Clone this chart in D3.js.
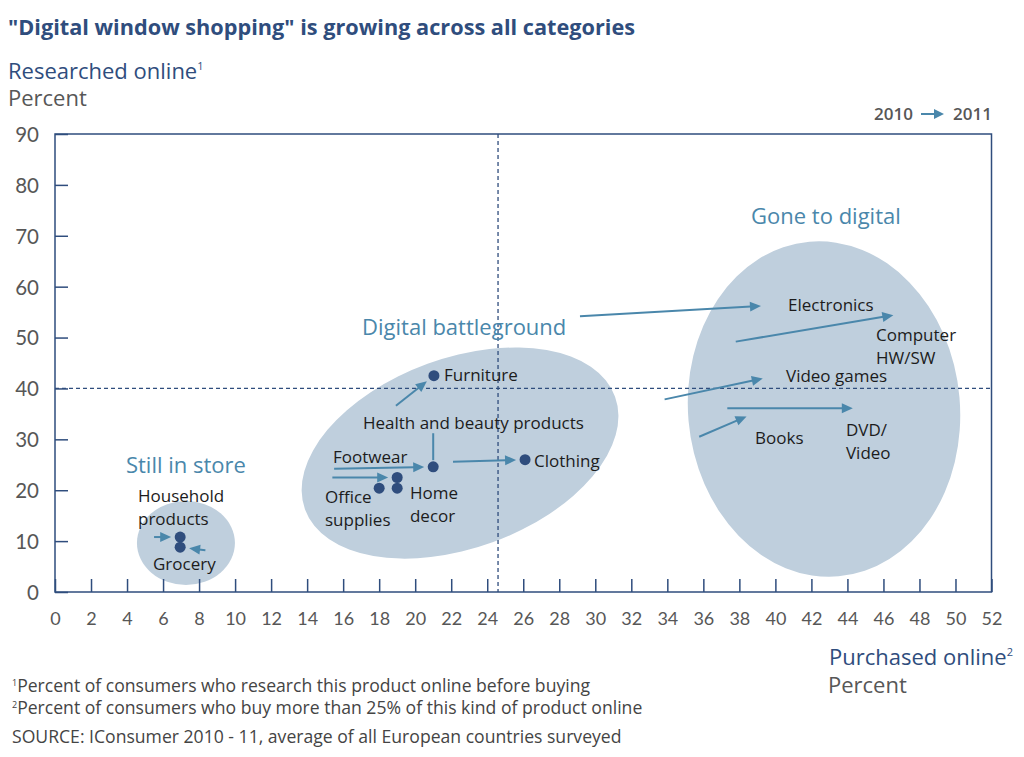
<!DOCTYPE html>
<html><head><meta charset="utf-8">
<script src="https://cdn.jsdelivr.net/npm/d3@7/dist/d3.min.js"></script>
<style>
body{margin:0;background:#fff;}
svg{font-family:"Open Sans",Lato,sans-serif;}
</style></head><body>
<svg id="chart" width="1024" height="757"></svg>
<script>
// ---------------- data ----------------
const xTicks = d3.range(0, 53, 2);
const yTicks = d3.range(0, 91, 10);
const xThreshold = 24.6;   // vertical dashed line
const yThreshold = 40;     // horizontal dashed line

// cluster ellipses (data units)
const clusterNames = ["Still in store", "Digital battleground", "Gone to digital"];
const clusterCx = [7.27, 22.49, 42.7];
const clusterCy = [9.63, 27.3, 35.95];
const clusterRx = [2.72, 9.16, 7.55];
const clusterRy = [8.25, 18.66, 33.0];
const clusterAngle = [0, -20, -5];
const clusterLabelX = [7.27, 17.05, 38.65];
const clusterLabelY = [24.95, 52.06, 73.87];

// product movements 2010 -> 2011 (x: purchased online %, y: researched online %)
const moveNames = ["Household products", "Grocery", "Furniture", "Footwear", "Office supplies", "Clothing",
                   "Electronics", "Computer HW/SW", "Video games", "DVD/Video", "Books"];
const x2010 = [5.5, 8.35, 18.93, 15.5, 15.4, 22.1, 29.15, 37.8, 33.85, 37.33, 35.77];
const y2010 = [10.8, 8.2, 36.6, 24.2, 22.5, 25.6, 54.2, 49.2, 37.85, 36.1, 30.5];
const x2011 = [6.95, 6.95, 21.04, 21.0, 19.0, 26.1, 39.2, 46.55, 39.3, 44.3, 38.4];
const y2011 = [10.8, 8.8, 42.5, 24.6, 22.5, 26.0, 56.2, 54.4, 41.95, 36.1, 34.5];
const hasDot = [true, true, true, true, true, true, false, false, false, false, false];

// extra 2011 dots without a movement arrow
const extraDotX = [19.0, 18.0];
const extraDotY = [20.4, 20.4];

// leader line (Health and beauty products)
const leaderX = [21.0, 21.0];
const leaderY = [31.2, 25.9];

// product labels
const labelText = [["Household", "products"], ["Grocery"], ["Furniture"], ["Health and beauty products"],
                   ["Footwear"], ["Office", "supplies"], ["Home", "decor"], ["Clothing"],
                   ["Electronics"], ["Computer", "HW/SW"], ["Video games"], ["Books"], ["DVD/", "Video"]];
const labelX = [4.61, 5.44, 21.6, 17.1, 15.44, 14.99, 19.71, 26.6, 40.7, 45.59, 40.59, 38.87, 43.92];
const labelY = [18.86, 5.5, 42.63, 33.2, 26.52, 18.66, 19.45, 25.74, 56.39, 50.49, 42.44, 30.26, 31.83];

// ---------------- drawing ----------------
const navy = "#2f4d7d", teal = "#4a87ab", fillC = "#bfcfdd", grey = "#575757", ink = "#1c1c1c";
const svg = d3.select("#chart");
const x = d3.scaleLinear().domain([0, 52]).range([55, 991.5]);
const y = d3.scaleLinear().domain([0, 90]).range([592, 134]);

// title
svg.append("text").attr("x", 8).attr("y", 35).attr("font-size", 21.7).attr("font-weight", "bold")
  .attr("fill", navy).text('"Digital window shopping" is growing across all categories');
const yt = svg.append("text").attr("x", 8).attr("y", 79).attr("font-size", 22).attr("fill", navy);
yt.append("tspan").text("Researched online");
yt.append("tspan").attr("font-size", 11).attr("dy", -9).text("1");
svg.append("text").attr("x", 8).attr("y", 106).attr("font-size", 22).attr("fill", grey).text("Percent");

// legend 2010 -> 2011
const lg = svg.append("g").attr("font-size", 17).attr("fill", grey).attr("font-weight", "600");
lg.append("text").attr("x", 913).attr("y", 120).attr("text-anchor", "end").text("2010");
lg.append("text").attr("x", 992).attr("y", 120).attr("text-anchor", "end").text("2011");
lg.append("line").attr("x1", 921).attr("x2", 936).attr("y1", 114).attr("y2", 114)
  .attr("stroke", teal).attr("stroke-width", 2);
lg.append("path").attr("d", "M934,109 L944,114 L934,119 Z").attr("fill", teal);

// ellipses
const ell = svg.append("g");
clusterNames.forEach((n, i) => {
  ell.append("ellipse")
    .attr("transform", `translate(${x(clusterCx[i])},${y(clusterCy[i])}) rotate(${clusterAngle[i]})`)
    .attr("rx", x(clusterRx[i]) - x(0)).attr("ry", y(0) - y(clusterRy[i]))
    .attr("fill", fillC);
});

// frame
svg.append("rect").attr("x", x(0)).attr("y", y(90)).attr("width", x(52) - x(0)).attr("height", y(0) - y(90))
  .attr("fill", "none").attr("stroke", navy).attr("stroke-width", 1.5);

// axes
const xa = svg.append("g").attr("transform", `translate(0,${y(0)})`)
  .call(d3.axisBottom(x).tickValues(xTicks).tickSize(-13).tickPadding(20).tickFormat(d3.format("d")));
const ya = svg.append("g").attr("transform", `translate(${x(0)},0)`)
  .call(d3.axisLeft(y).tickValues(yTicks).tickSize(-13).tickPadding(16).tickFormat(d3.format("d")));
[xa, ya].forEach(a => {
  a.select(".domain").remove();
  a.selectAll(".tick line").attr("stroke", navy).attr("stroke-width", 1.5);
  a.selectAll(".tick text").attr("fill", grey).attr("font-family", "Lato,sans-serif");
});
xa.selectAll(".tick text").attr("font-size", 18);
ya.selectAll(".tick text").attr("font-size", 20.5).attr("dy", "0.36em");

// dashed thresholds
svg.append("line").attr("x1", x(xThreshold)).attr("x2", x(xThreshold)).attr("y1", y(90)).attr("y2", y(0))
  .attr("stroke", navy).attr("stroke-width", 1.3).attr("stroke-dasharray", "4,3");
svg.append("line").attr("x1", x(0)).attr("x2", x(52)).attr("y1", y(yThreshold)).attr("y2", y(yThreshold))
  .attr("stroke", navy).attr("stroke-width", 1.3).attr("stroke-dasharray", "4,3");

// arrows
const ag = svg.append("g");
moveNames.forEach((n, i) => {
  const x0 = x(x2010[i]), y0 = y(y2010[i]);
  let x1 = x(x2011[i]), y1 = y(y2011[i]);
  const dx = x1 - x0, dy = y1 - y0, L = Math.hypot(dx, dy), ux = dx / L, uy = dy / L;
  if (hasDot[i]) { x1 -= ux * 9; y1 -= uy * 9; }
  const hl = 11, hw = 5;
  const bx = x1 - ux * hl, by = y1 - uy * hl;
  ag.append("line").attr("x1", x0).attr("y1", y0).attr("x2", bx + ux * 1).attr("y2", by + uy * 1)
    .attr("stroke", teal).attr("stroke-width", 2);
  ag.append("path").attr("fill", teal)
    .attr("d", `M${x1},${y1} L${bx - uy * hw},${by + ux * hw} L${bx + uy * hw},${by - ux * hw} Z`);
});
ag.append("line").attr("x1", x(leaderX[0])).attr("x2", x(leaderX[1])).attr("y1", y(leaderY[0])).attr("y2", y(leaderY[1]))
  .attr("stroke", teal).attr("stroke-width", 2);

// dots
const dg = svg.append("g").attr("fill", navy);
moveNames.forEach((n, i) => { if (hasDot[i]) dg.append("circle").attr("cx", x(x2011[i])).attr("cy", y(y2011[i])).attr("r", 5.5); });
extraDotX.forEach((v, i) => dg.append("circle").attr("cx", x(v)).attr("cy", y(extraDotY[i])).attr("r", 5.5));

// cluster labels
clusterNames.forEach((n, i) => {
  svg.append("text").attr("x", x(clusterLabelX[i])).attr("y", y(clusterLabelY[i])).attr("dy", "0.35em")
    .attr("text-anchor", i === 0 ? "middle" : "start").attr("font-size", 22).attr("fill", teal).text(n);
});

// product labels
labelText.forEach((lines, i) => {
  const t = svg.append("text").attr("x", x(labelX[i])).attr("y", y(labelY[i])).attr("dy", "0.35em")
    .attr("font-size", 17).attr("fill", ink);
  lines.forEach((s, j) => t.append("tspan").attr("x", x(labelX[i])).attr("dy", j === 0 ? "0.35em" : 23).text(s));
});

// x axis title
const xt = svg.append("text").attr("x", 1013).attr("y", 665).attr("text-anchor", "end").attr("font-size", 22).attr("fill", navy);
xt.append("tspan").text("Purchased online");
xt.append("tspan").attr("font-size", 11).attr("dy", -9).text("2");
svg.append("text").attr("x", 828).attr("y", 693).attr("font-size", 22).attr("fill", grey).text("Percent");

// footnotes
const fn = svg.append("g").attr("font-size", 17.6).attr("fill", "#444");
const f1 = fn.append("text").attr("x", 12).attr("y", 692);
f1.append("tspan").attr("font-size", 9).attr("dy", -6).text("1");
f1.append("tspan").attr("dy", 6).text("Percent of consumers who research this product online before buying");
const f2 = fn.append("text").attr("x", 12).attr("y", 714);
f2.append("tspan").attr("font-size", 9).attr("dy", -6).text("2");
f2.append("tspan").attr("dy", 6).text("Percent of consumers who buy more than 25% of this kind of product online");
fn.append("text").attr("x", 12).attr("y", 743).text("SOURCE: IConsumer 2010 - 11, average of all European countries surveyed");
</script>
</body></html>
